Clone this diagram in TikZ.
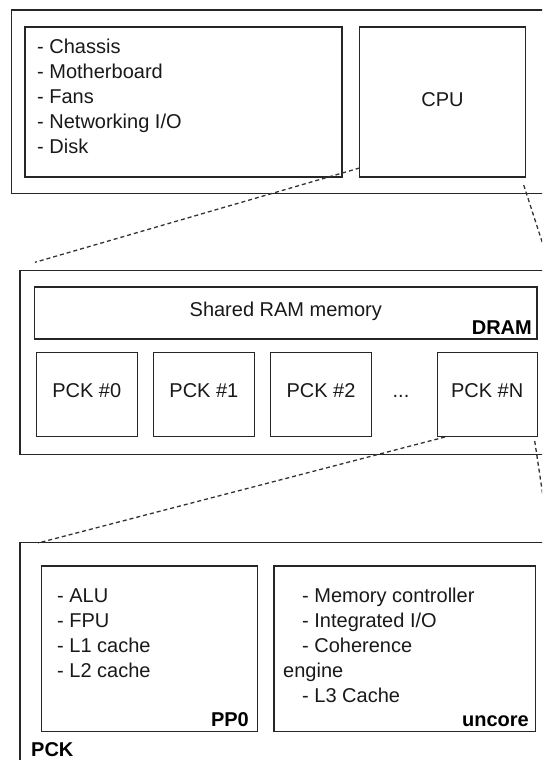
\documentclass[tikz,border=0pt]{standalone}
\usepackage{fontspec}
\setmainfont{Liberation Sans}
\usetikzlibrary{calc}
\tikzset{
  box/.style={draw=black!85, line width=1.1pt, rectangle, inner sep=0pt, fill=none},
  txt/.style={inner sep=0pt, anchor=base west, font=\fontsize{20}{24}\selectfont, text=black!90},
  ctxt/.style={inner sep=0pt, anchor=base, font=\fontsize{20}{24}\selectfont, text=black!90},
  btxt/.style={inner sep=0pt, font=\fontsize{20}{24}\selectfont\bfseries, text=black},
  zoomline/.style={draw=black!80, line width=1.3pt, dash pattern=on 4pt off 3pt},
}
\begin{document}
\begin{tikzpicture}[x=1pt,y=-1pt]
\useasboundingbox (0,0) rectangle (542,760);
\clip (0,0) rectangle (542,760);
\fill[white] (0,0) rectangle (542,760);

% ---- system level ----
\node[box, minimum width=548.5pt, minimum height=183.3pt] (sys) at (285.75,101.65) {};
\node[box, minimum width=317pt, minimum height=150pt] (list) at (183.5,102) {};
\node[box, minimum width=166pt, minimum height=150pt] (cpu) at (442.5,102) {};
\node[txt] (l1) at (37,53) {- Chassis};
\node[txt] (l2) at (37,78) {- Motherboard};
\node[txt] (l3) at (37,103) {- Fans};
\node[txt] (l4) at (37,128) {- Networking I/O};
\node[txt] (l5) at (37,153) {- Disk};
\node[ctxt] (cpulbl) at (442.5,106) {CPU};

% ---- CPU level ----
\node[box, minimum width=540pt, minimum height=183.6pt] (cpusec) at (290,362.5) {};
\node[box, minimum width=502.4pt, minimum height=52pt] (dram) at (285.8,313) {};
\node[ctxt] (ramlbl) at (285.8,316) {Shared RAM memory};
\node[btxt, anchor=base east] (dramlbl) at (532,334) {DRAM};
\node[box, minimum width=101pt, minimum height=84pt] (pck0) at (86.8,394.7) {};
\node[box, minimum width=101pt, minimum height=84pt] (pck1) at (203.9,394.7) {};
\node[box, minimum width=101pt, minimum height=84pt] (pck2) at (321,394.7) {};
\node[box, minimum width=100pt, minimum height=84pt] (pckN) at (487.2,394.7) {};
\node[ctxt] (p0lbl) at (86.8,397) {PCK \#0};
\node[ctxt] (p1lbl) at (203.9,397) {PCK \#1};
\node[ctxt] (p2lbl) at (321,397) {PCK \#2};
\node[ctxt] (dots) at (401,397) {...};
\node[ctxt] (pNlbl) at (487.2,397) {PCK \#N};

% ---- package level ----
\node[box, minimum width=540pt, minimum height=247.3pt] (pcksec) at (290,666.35) {};
\node[box, minimum width=216pt, minimum height=165.7pt] (pp0) at (149.5,648.85) {};
\node[box, minimum width=261.5pt, minimum height=165.7pt] (uncore) at (404.75,648.85) {};
\node[txt] (a1) at (57,602) {- ALU};
\node[txt] (a2) at (57,627) {- FPU};
\node[txt] (a3) at (57,652) {- L1 cache};
\node[txt] (a4) at (57,677) {- L2 cache};
\node[btxt, anchor=base east] (pp0lbl) at (249,726) {PP0};
\node[txt] (u1) at (302,602) {- Memory controller};
\node[txt] (u2) at (302,627) {- Integrated I/O};
\node[txt] (u3) at (302,652) {- Coherence};
\node[txt] (u4) at (283,677) {engine};
\node[txt] (u5) at (302,702) {- L3 Cache};
\node[btxt, anchor=base east] (unclbl) at (529,726) {uncore};
\node[btxt, anchor=base west] (pcklbl) at (31,756) {PCK};

% ---- zoom connectors ----
\coordinate (z1a) at (359.5,168);
\coordinate (z1b) at (35,262.3);
\coordinate (z2a) at (523.7,185);
\coordinate (z2b) at (556,285);
\coordinate (z3a) at (445,437);
\coordinate (z3b) at (38,543);
\coordinate (z4a) at (534.7,441);
\coordinate (z4b) at (546.7,521);
\draw[zoomline] (z1a) -- (z1b);
\draw[zoomline] (z2a) -- (z2b);
\draw[zoomline] (z3a) -- (z3b);
\draw[zoomline] (z4a) -- (z4b);
\end{tikzpicture}
\end{document}
